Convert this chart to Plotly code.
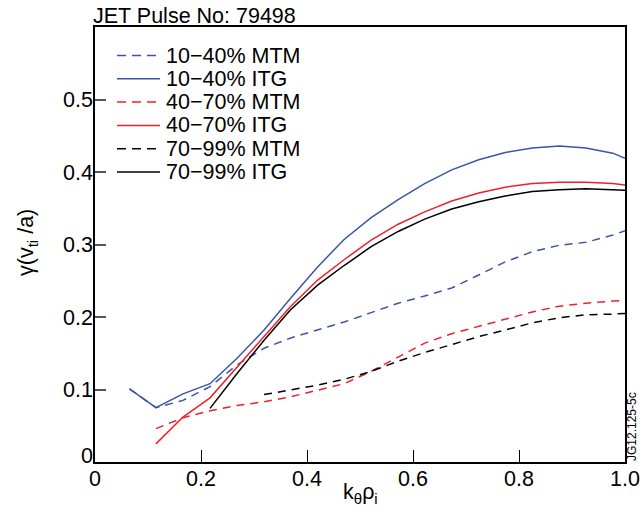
import plotly.graph_objects as go

# ---- data ----
k_grid = [0.065, 0.115, 0.166, 0.217, 0.268, 0.319, 0.369, 0.42, 0.47, 0.521,
          0.572, 0.622, 0.673, 0.724, 0.774, 0.825, 0.876, 0.926, 0.977, 1.0]

mtm_10_40 = [0.101, 0.075, 0.085, 0.104, 0.134, 0.157, 0.171, 0.182, 0.193, 0.206,
             0.219, 0.229, 0.240, 0.258, 0.276, 0.290, 0.299, 0.303, 0.313, 0.319]
itg_10_40 = [0.101, 0.075, 0.094, 0.108, 0.143, 0.182, 0.226, 0.269, 0.307, 0.337,
             0.362, 0.384, 0.403, 0.417, 0.427, 0.433, 0.436, 0.433, 0.426, 0.419]

k_40_70 = k_grid[1:]
mtm_40_70 = [0.046, 0.061, 0.0706, 0.078, 0.083, 0.090, 0.099, 0.108, 0.125,
             0.145, 0.164, 0.177, 0.187, 0.196, 0.207, 0.215, 0.219, 0.222, 0.223]
itg_40_70 = [0.025, 0.062, 0.0885, 0.131, 0.174, 0.2145, 0.251, 0.279, 0.306,
             0.328, 0.345, 0.360, 0.371, 0.379, 0.384, 0.386, 0.386, 0.384, 0.382]

k_70_99_mtm = k_grid[5:]
mtm_70_99 = [0.093, 0.099, 0.106, 0.114, 0.125, 0.139, 0.151, 0.162, 0.173,
             0.182, 0.192, 0.199, 0.203, 0.204, 0.205]
k_70_99_itg = k_grid[3:]
itg_70_99 = [0.074, 0.122, 0.168, 0.210, 0.244, 0.271, 0.297, 0.318, 0.335,
             0.349, 0.359, 0.367, 0.373, 0.3755, 0.3768, 0.376, 0.375]

x_ticks = [0, 0.2, 0.4, 0.6, 0.8, 1.0]
x_tick_labels = ["0", "0.2", "0.4", "0.6", "0.8", "1.0"]
y_ticks = [0, 0.1, 0.2, 0.3, 0.4, 0.5]
y_tick_labels = ["", "0.1", "0.2", "0.3", "0.4", "0.5"]   # "0" drawn raised, below
y_zero_label = "0"

series_names = ["10\u221240% MTM", "10\u221240% ITG", "40\u221270% MTM",
                "40\u221270% ITG", "70\u221299% MTM", "70\u221299% ITG"]

BLUE = "#3b55a8"
RED = "#ee2129"
BLACK = "#000000"
DASH = "8px,6px"
FONT = "Liberation Sans, Arial, Helvetica, sans-serif"
FS = 21.5

series = [
    (k_grid, mtm_10_40, BLUE, DASH),
    (k_grid, itg_10_40, BLUE, "solid"),
    (k_40_70, mtm_40_70, RED, DASH),
    (k_40_70, itg_40_70, RED, "solid"),
    (k_70_99_mtm, mtm_70_99, BLACK, DASH),
    (k_70_99_itg, itg_70_99, BLACK, "solid"),
]

fig = go.Figure()
for name, (xs, ys, col, dash) in zip(series_names, series):
    fig.add_trace(go.Scatter(x=xs, y=ys, mode="lines", name=name,
                             line=dict(color=col, width=1.5, dash=dash),
                             showlegend=False))

# plot area spans page x 95..625, y 27..462
X0, X1, Y0, Y1 = 95.0, 625.0, 27.0, 462.0
W, H = X1 - X0, Y1 - Y0
def px(xp):  # page x -> paper x
    return (xp - X0) / W
def py(yp):  # page y -> paper y
    return (Y1 - yp) / H

# manual legend (sample lines + labels)
row0, step = 55.5, 23.3
for i, (name, (xs, ys, col, dash)) in enumerate(zip(series_names, series)):
    yrow = row0 + i * step
    fig.add_shape(type="line", xref="paper", yref="paper",
                  x0=px(117), x1=px(160), y0=py(yrow), y1=py(yrow),
                  line=dict(color=col, width=1.5,
                            dash="9px,6px" if dash != "solid" else "solid"))
    fig.add_annotation(xref="paper", yref="paper", x=px(164), y=py(yrow),
                       text=name, showarrow=False, xanchor="left", yanchor="middle",
                       font=dict(size=FS, color="black", family=FONT))

# raised "0" label of the y axis
fig.add_annotation(xref="paper", yref="paper", x=px(94.5), y=py(455.5),
                   text=y_zero_label, showarrow=False, xanchor="right", yanchor="middle",
                   font=dict(size=FS, color="black", family=FONT))

# axis titles
fig.add_annotation(xref="paper", yref="paper", x=px(360), y=py(493),
                   text="k<sub>\u03b8</sub>\u03c1<sub>i</sub>", showarrow=False,
                   xanchor="center", yanchor="middle",
                   font=dict(size=FS, color="black", family=FONT))
fig.add_annotation(xref="paper", yref="paper", x=px(27), y=py(243),
                   text="\u03b3(v<sub>ti</sub> /a)", textangle=-90, showarrow=False,
                   xanchor="center", yanchor="middle",
                   font=dict(size=FS, color="black", family=FONT))

fig.add_annotation(xref="paper", yref="paper", x=px(632), y=py(427),
                   text="JG12.125-5c", textangle=-90, showarrow=False,
                   xanchor="center", yanchor="middle",
                   font=dict(size=12, color="black", family=FONT))

fig.update_layout(
    width=640, height=515,
    margin=dict(l=X0, r=640 - X1, t=Y0, b=515 - Y1, autoexpand=False),
    paper_bgcolor="white", plot_bgcolor="white",
    font=dict(family=FONT, size=FS, color="black"),
    title=dict(text="JET Pulse No: 79498", x=93 / 640, xanchor="left",
               xref="container", y=1 - 15 / 515, yanchor="middle", yref="container",
               font=dict(size=FS, color="black", family=FONT)),
)
fig.update_xaxes(range=[0, 1], tickvals=x_ticks, ticktext=x_tick_labels,
                 ticks="inside", ticklen=12, tickcolor="black", tickwidth=1,
                 showline=True, linecolor="black", linewidth=1.5, mirror=True,
                 showgrid=False, zeroline=False, automargin=False,
                 ticklabelstandoff=-4, tickfont=dict(size=FS))
fig.update_yaxes(range=[0, 0.6], tickvals=y_ticks, ticktext=y_tick_labels,
                 ticks="inside", ticklen=11, tickcolor="#555555", tickwidth=1.5,
                 showline=True, linecolor="black", linewidth=1.5, mirror=True,
                 showgrid=False, zeroline=False, automargin=False,
                 ticklabelstandoff=-4, tickfont=dict(size=FS))

# remove the browser's default 8px body margin so the figure fills the window
fig.write_html("out.html",
               config={"displayModeBar": False},
               post_script="document.body.style.margin='0';"
                           "document.documentElement.style.overflow='hidden';")
